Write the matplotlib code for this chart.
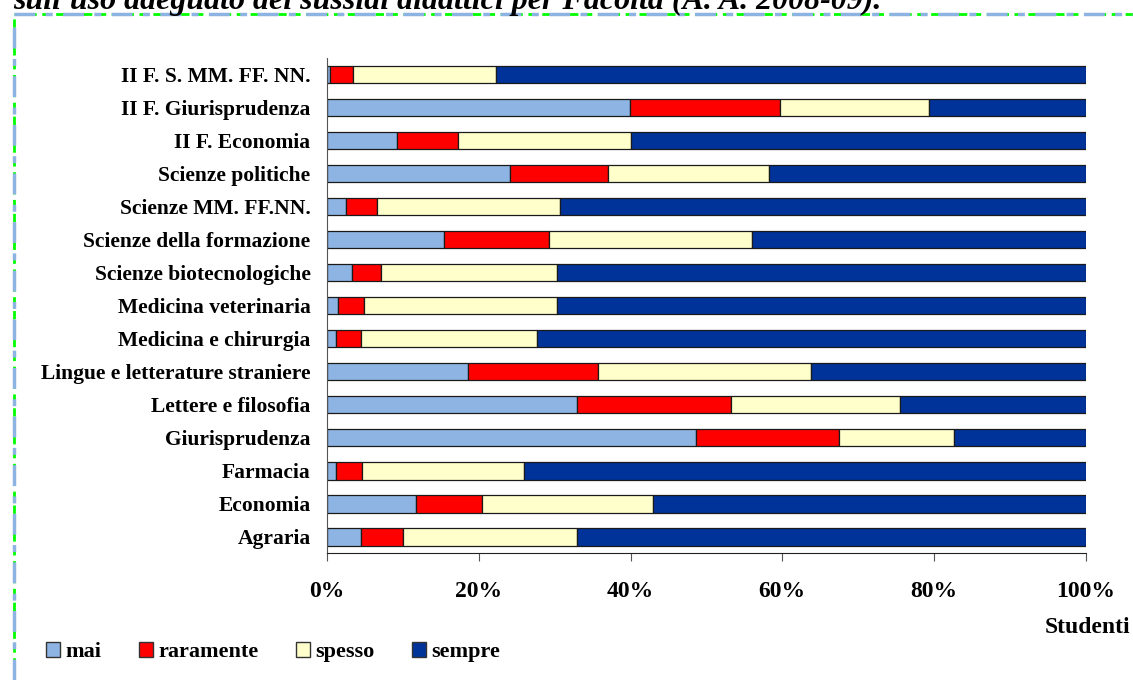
import numpy as np
import matplotlib
matplotlib.use('Agg')
import matplotlib.pyplot as plt
from matplotlib.lines import Line2D
from matplotlib.patches import Patch

# Facoltà dal basso verso l'alto
facolta = ['Agraria', 'Economia', 'Farmacia', 'Giurisprudenza', 'Lettere e filosofia',
           'Lingue e letterature straniere', 'Medicina e chirurgia', 'Medicina veterinaria',
           'Scienze biotecnologiche', 'Scienze della formazione', 'Scienze MM. FF.NN.',
           'Scienze politiche', 'II F. Economia', 'II F. Giurisprudenza', 'II F. S. MM. FF. NN.']

# percentuali per risposta
mai        = [4.5, 11.7, 1.1, 48.6, 33.0, 18.5, 1.1, 1.4, 3.3, 15.4, 2.5, 24.1, 9.2, 39.9, 0.4]
raramente  = [5.5, 8.7, 3.5, 18.9, 20.2, 17.2, 3.4, 3.5, 3.8, 13.9, 4.1, 12.9, 8.0, 19.8, 3.0]
spesso     = [22.9, 22.6, 21.3, 15.2, 22.3, 28.1, 23.1, 25.4, 23.2, 26.7, 24.1, 21.2, 22.8, 19.7, 18.8]
sempre     = [67.1, 57.0, 74.1, 17.3, 24.5, 36.2, 72.4, 69.7, 69.7, 44.0, 69.3, 41.8, 60.0, 20.6, 77.8]

serie = [('mai', mai, '#8EB4E3'), ('raramente', raramente, '#FF0000'),
         ('spesso', spesso, '#FFFFCC'), ('sempre', sempre, '#003399')]
x_ticks = [0, 20, 40, 60, 80, 100]

SERIF = ['Liberation Serif', 'DejaVu Serif']

fig = plt.figure(figsize=(11.33, 6.80), dpi=100)
ax = fig.add_axes([0.2888, 0.1863, 0.9582 - 0.2888, 0.9147 - 0.1863])

y = np.arange(len(facolta))
left = np.zeros(len(facolta))
for nome, vals, col in serie:
    vals = np.array(vals)
    ax.barh(y, vals, left=left, height=0.53, color=col, edgecolor='#1a1a1a',
            linewidth=0.9, label=nome)
    left += vals

ax.set_xlim(0, 100)
ax.set_ylim(-0.5, 14.5)
ax.set_yticks(y)
ax.set_yticklabels(facolta, fontfamily=SERIF, fontweight='bold', fontsize=15.5)
ax.set_xticks(x_ticks)
ax.set_xticklabels([f'{v}%' for v in x_ticks], fontfamily=SERIF, fontweight='bold', fontsize=17)
ax.tick_params(axis='y', length=0, pad=12)
ax.tick_params(axis='x', length=6, direction='out', color='#555555', pad=14)
for s in ['top', 'right']:
    ax.spines[s].set_visible(False)
ax.spines['left'].set_color('#555555')
ax.spines['bottom'].set_color('#222222')

# etichetta asse x
fig.text(1130 / 1133, 1 - 633 / 680, 'Studenti', ha='right', va='baseline',
         fontfamily=SERIF, fontweight='bold', fontsize=17)

# legenda
handles = [Patch(facecolor=c, edgecolor='#333333', label=n) for n, _, c in serie]
fig.legend(handles=handles, loc='center left', bbox_to_anchor=(26 / 1133, 1 - 652 / 680),
           ncol=4, frameon=False, handlelength=0.63, handleheight=0.63, handletextpad=0.25,
           columnspacing=1.67, prop={'family': SERIF, 'weight': 'bold', 'size': 16})

# titolo tagliato in alto (come nell'originale)
fig.text(13 / 1133, 1 - 9 / 680,
         "sull'uso adeguato dei sussidi didattici per Facoltà (A. A. 2008-09).",
         ha='left', va='baseline', fontfamily=SERIF, fontweight='bold',
         fontstyle='italic', fontsize=23)

# bordo tratteggiato
yb = 1 - 14 / 680
xb = 14 / 1133
fig.add_artist(Line2D([xb, 1], [yb, yb], color='#00FF00', lw=2, linestyle=(0, (3, 2))))
fig.add_artist(Line2D([xb, 1], [yb, yb], color='#8DB3E2', lw=2.5, linestyle=(0, (6, 3, 2, 3))))
fig.add_artist(Line2D([xb, xb], [0, yb - 0.005], color='#00FF00', lw=2, linestyle=(0, (3, 2))))
fig.add_artist(Line2D([xb, xb], [0, yb - 0.005], color='#8DB3E2', lw=2.5, linestyle=(0, (6, 3, 2, 3))))

plt.savefig('out.png', dpi=100)
plt.close()
